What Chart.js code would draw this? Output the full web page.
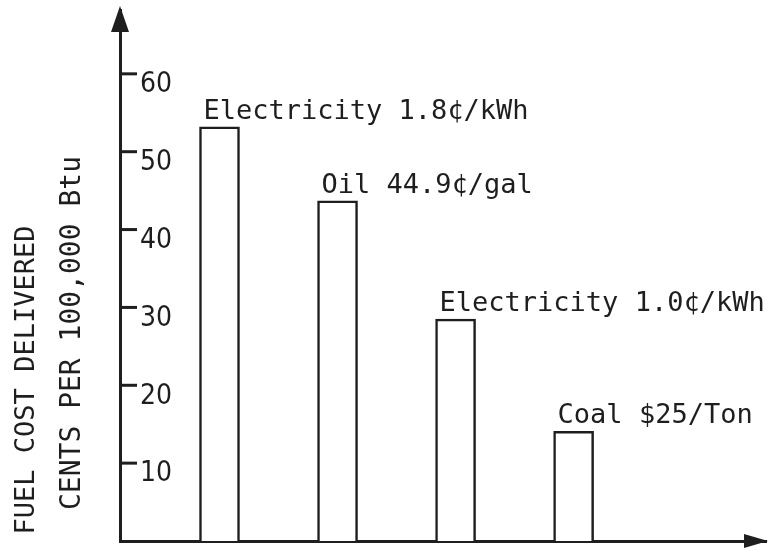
<!DOCTYPE html>
<html>
<head>
<meta charset="utf-8">
<script src="https://cdn.jsdelivr.net/npm/chart.js@4"></script>
<style>
  html, body { margin: 0; background: #fff; }
  #wrap { width: 768px; height: 550px; }
</style>
</head>
<body>
<div id="wrap"><canvas id="fuelChart"></canvas></div>
<script>
const fuels = ["Electricity 1.8¢/kWh", "Oil 44.9¢/gal", "Electricity 1.0¢/kWh", "Coal $25/Ton"];
const barSlots = [1, 2, 3, 4];
const costs = [53.2, 43.7, 28.5, 14.1];
const yTicks = [10, 20, 30, 40, 50, 60];
const titleLines = ["FUEL COST DELIVERED", "CENTS PER 100,000 Btu"];

const ink = "#1e1e1e";
const mono = "'DejaVu Sans Mono', 'Liberation Mono', monospace";

// tick marks, arrows, bar captions and the rotated axis title
const sketchPlugin = {
  id: "sketch",
  afterDraw(c) {
    const ctx = c.ctx;
    const area = c.chartArea;
    const y = c.scales.y;
    ctx.save();
    ctx.strokeStyle = ink;
    ctx.fillStyle = ink;

    // short tick marks inside the axis
    ctx.lineWidth = 3;
    yTicks.forEach(v => {
      const py = y.getPixelForValue(v);
      ctx.beginPath();
      ctx.moveTo(area.left, py);
      ctx.lineTo(area.left + 17, py);
      ctx.stroke();
    });

    // arrow heads
    ctx.beginPath();
    ctx.moveTo(area.left, area.top - 4);
    ctx.lineTo(area.left - 9, area.top + 22);
    ctx.lineTo(area.left + 9, area.top + 22);
    ctx.closePath();
    ctx.fill();
    ctx.beginPath();
    ctx.moveTo(area.right + 2, area.bottom);
    ctx.lineTo(area.right - 22, area.bottom - 7);
    ctx.lineTo(area.right - 22, area.bottom + 7);
    ctx.closePath();
    ctx.fill();

    // captions above each bar
    ctx.font = "27px " + mono;
    ctx.textAlign = "left";
    ctx.textBaseline = "alphabetic";
    c.getDatasetMeta(0).data.forEach((bar, i) => {
      ctx.fillText(fuels[i], bar.x - bar.width / 2 + 4, bar.y - 8);
    });

    // axis title, two rotated lines
    ctx.textAlign = "center";
    ctx.textBaseline = "middle";
    ctx.save();
    ctx.font = "27px " + mono;
    ctx.translate(27, 380);
    ctx.rotate(-Math.PI / 2);
    ctx.fillText(titleLines[0], 0, 0);
    ctx.restore();
    ctx.font = "28px " + mono;
    ctx.translate(73, 333);
    ctx.rotate(-Math.PI / 2);
    ctx.fillText(titleLines[1], 0, 0);
    ctx.restore();
  }
};

new Chart(document.getElementById("fuelChart"), {
  type: "bar",
  data: {
    datasets: [{
      data: barSlots.map((s, i) => ({ x: s, y: costs[i] })),
      backgroundColor: "#ffffff",
      borderColor: ink,
      borderWidth: 2.5,
      barThickness: 40
    }]
  },
  options: {
    responsive: true,
    maintainAspectRatio: false,
    animation: false,
    layout: { padding: { left: 120, top: 10, right: 2, bottom: 9 } },
    plugins: { legend: { display: false }, tooltip: { enabled: false } },
    scales: {
      x: {
        type: "linear",
        offset: false,
        min: 0.157,
        max: 5.63,
        grid: { display: false, drawTicks: false },
        border: { color: ink, width: 3 },
        ticks: { display: false },
        afterFit: s => { s.height = 0; s.paddingLeft = 0; s.paddingRight = 0; }
      },
      y: {
        min: 0,
        max: 68.2,
        grid: { display: false, drawTicks: false },
        border: { color: ink, width: 3 },
        afterBuildTicks: s => { s.ticks = yTicks.map(v => ({ value: v })); },
        afterFit: s => { s.width = 0; s.paddingTop = 0; s.paddingBottom = 0; },
        ticks: {
          mirror: true,
          padding: 20,
          labelOffset: 11,
          color: ink,
          font: { family: "'DejaVu Sans Condensed', 'Liberation Sans Narrow', sans-serif", size: 28 }
        }
      }
    }
  },
  plugins: [sketchPlugin]
});
</script>
</body>
</html>
